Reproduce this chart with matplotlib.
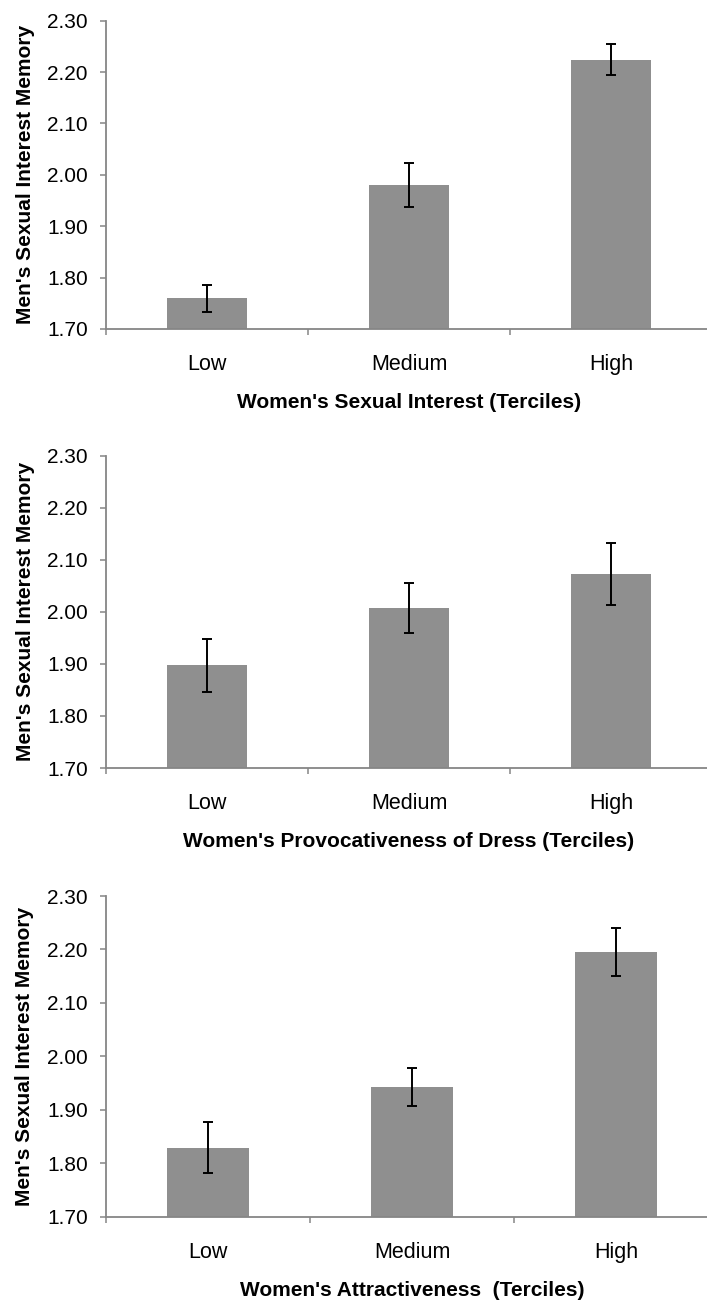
"""Three-panel bar chart: men's sexual interest memory by women's terciles."""

import matplotlib
matplotlib.use("Agg")
import matplotlib.pyplot as plt
import numpy as np
from matplotlib.ticker import FormatStrFormatter, FixedLocator

plt.rcParams["font.family"] = ["Liberation Sans", "DejaVu Sans"]

categories = ["Low", "Medium", "High"]

interest_means = [1.760, 1.980, 2.224]
interest_errs = [0.026, 0.043, 0.030]

dress_means = [1.897, 2.008, 2.073]
dress_errs = [0.051, 0.048, 0.060]

attract_means = [1.829, 1.943, 2.195]
attract_errs = [0.048, 0.036, 0.045]

xlabels = [
    "Women's Sexual Interest (Terciles)",
    "Women's Provocativeness of Dress (Terciles)",
    "Women's Attractiveness  (Terciles)",
]
ylabel = "Men's Sexual Interest Memory"

BAR_COLOR = "#8f8f8f"
AXIS_COLOR = "#868686"

W, H = 707, 1300
# (left px, top px, bottom px, width px) for each panel
panel_boxes = [
    (106, 20.7, 329.0, 606),
    (106, 455.7, 768.0, 606),
    (106, 896.0, 1216.7, 612),
]


def draw_panel(fig, box, means, errs, xlabel):
    left, top, bottom, width = box
    ax = fig.add_axes([left / W, (H - bottom) / H, width / W, (bottom - top) / H])
    x = np.arange(len(categories))
    ax.bar(x, np.array(means) - 1.70, bottom=1.70, width=0.4, color=BAR_COLOR,
           edgecolor="none", zorder=2)
    ax.errorbar(x, means, yerr=errs, fmt="none", ecolor="black", elinewidth=1.4,
                capsize=3.5, capthick=1.4, zorder=3)

    ax.set_xlim(-0.5, 2.5)
    ax.set_ylim(1.70, 2.30)
    ax.set_yticks(np.arange(1.70, 2.301, 0.10))
    ax.yaxis.set_major_formatter(FormatStrFormatter("%.2f"))

    ax.set_xticks(x)
    ax.set_xticklabels(categories)
    ax.xaxis.set_minor_locator(FixedLocator([-0.5, 0.5, 1.5, 2.5]))
    ax.tick_params(axis="x", which="major", length=0, pad=18, labelsize=15.5)
    ax.tick_params(axis="x", which="minor", length=4, width=1.1, color=AXIS_COLOR,
                   direction="out")
    ax.tick_params(axis="y", length=4, width=1.1, color=AXIS_COLOR, pad=9,
                   labelsize=15)

    for side in ("top", "right"):
        ax.spines[side].set_visible(False)
    for side in ("left", "bottom"):
        ax.spines[side].set_color(AXIS_COLOR)
        ax.spines[side].set_linewidth(1.3)

    ax.set_xlabel(xlabel, fontsize=15, fontweight="bold", labelpad=13)
    ax.set_ylabel(ylabel, fontsize=15, fontweight="bold")
    ax.yaxis.set_label_coords(-0.117, 0.5)
    return ax


fig = plt.figure(figsize=(W / 100, H / 100), dpi=100)
data = [
    (interest_means, interest_errs),
    (dress_means, dress_errs),
    (attract_means, attract_errs),
]
for box, (m, e), xl in zip(panel_boxes, data, xlabels):
    draw_panel(fig, box, m, e, xl)

fig.savefig("out.png", dpi=100)
